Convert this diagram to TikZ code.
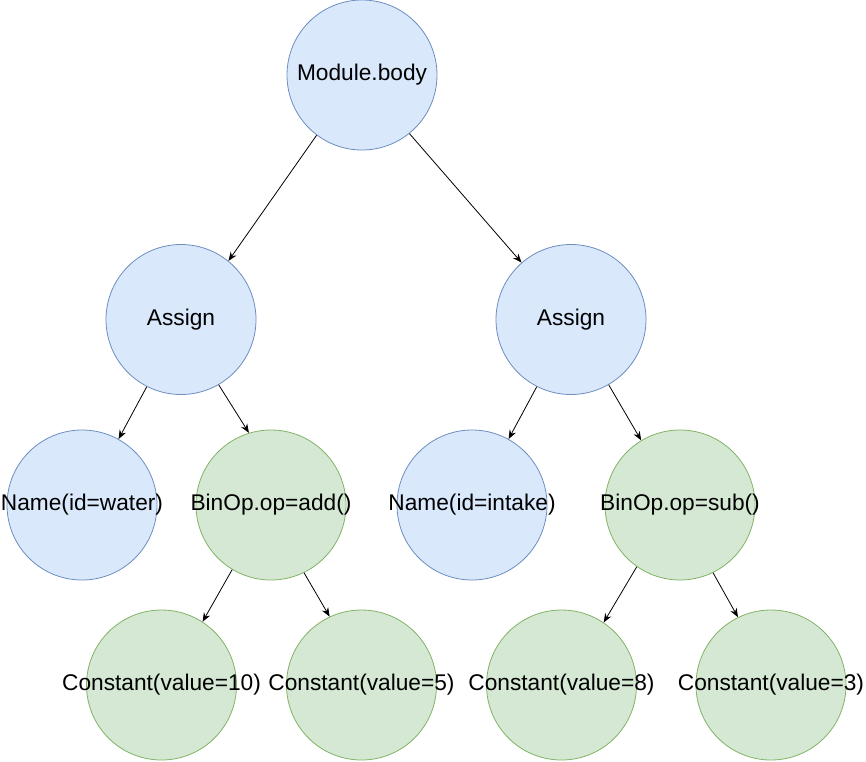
\documentclass[tikz,border=0pt]{standalone}
\usepackage{fontspec}
\setmainfont{Liberation Sans}
\usetikzlibrary{arrows.meta}
\definecolor{bfill}{HTML}{DAE8FC}
\definecolor{bline}{HTML}{6C8EBF}
\definecolor{gfill}{HTML}{D5E8D4}
\definecolor{gline}{HTML}{82B366}
\tikzset{
  base/.style={circle, minimum size=150pt, inner sep=0pt, line width=0.8pt},
  bnode/.style={base, draw=bline, fill=bfill},
  gnode/.style={base, draw=gline, fill=gfill},
  txt/.style={font=\fontsize{22.7}{27}\selectfont, inner sep=0pt},
  edge/.style={draw=black, line width=0.8pt, -{Stealth[length=9pt,width=7pt]}}
}
\begin{document}
\begin{tikzpicture}[x=1pt,y=-1pt]
\useasboundingbox (0,0) rectangle (866,761);
\node[bnode] (mod) at (362,75) {};
\node[bnode] (asl) at (181,319.5) {};
\node[bnode] (asr) at (571,319.5) {};
\node[bnode] (nw) at (82,505) {};
\node[gnode] (badd) at (271,505) {};
\node[bnode] (ni) at (472,505) {};
\node[gnode] (bsub) at (680,505) {};
\node[gnode] (c10) at (161.5,685) {};
\node[gnode] (c5) at (361.5,685) {};
\node[gnode] (c8) at (561.5,685) {};
\node[gnode] (c3) at (771,685) {};
\node[txt] (tmod) at (mod.center) {Module.body};
\node[txt] (tasl) at (asl.center) {Assign};
\node[txt] (tasr) at (asr.center) {Assign};
\node[txt] (tnw) at (nw.center) {Name(id=water)};
\node[txt] (tbadd) at (badd.center) {BinOp.op=add()};
\node[txt] (tni) at (ni.center) {Name(id=intake)};
\node[txt] (tbsub) at (bsub.center) {BinOp.op=sub()};
\node[txt] (tc10) at (c10.center) {Constant(value=10)};
\node[txt] (tc5) at (c5.center) {Constant(value=5)};
\node[txt] (tc8) at (c8.center) {Constant(value=8)};
\node[txt] (tc3) at (c3.center) {Constant(value=3)};
\draw[edge] (mod.233.6) -- (asl.51.9);
\draw[edge] (mod.309.6) -- (asr.131.3);
\draw[edge] (asl.243.3) -- (nw.61.7);
\draw[edge] (asl.300.3) -- (badd.107);
\draw[edge] (asr.243.3) -- (ni.61.7);
\draw[edge] (asr.300.9) -- (bsub.121.6);
\draw[edge] (badd.239.7) -- (c10.57.7);
\draw[edge] (badd.296.9) -- (c5.115.9);
\draw[edge] (bsub.235.7) -- (c8.56.4);
\draw[edge] (bsub.296.2) -- (c3.116.6);
\end{tikzpicture}
\end{document}
